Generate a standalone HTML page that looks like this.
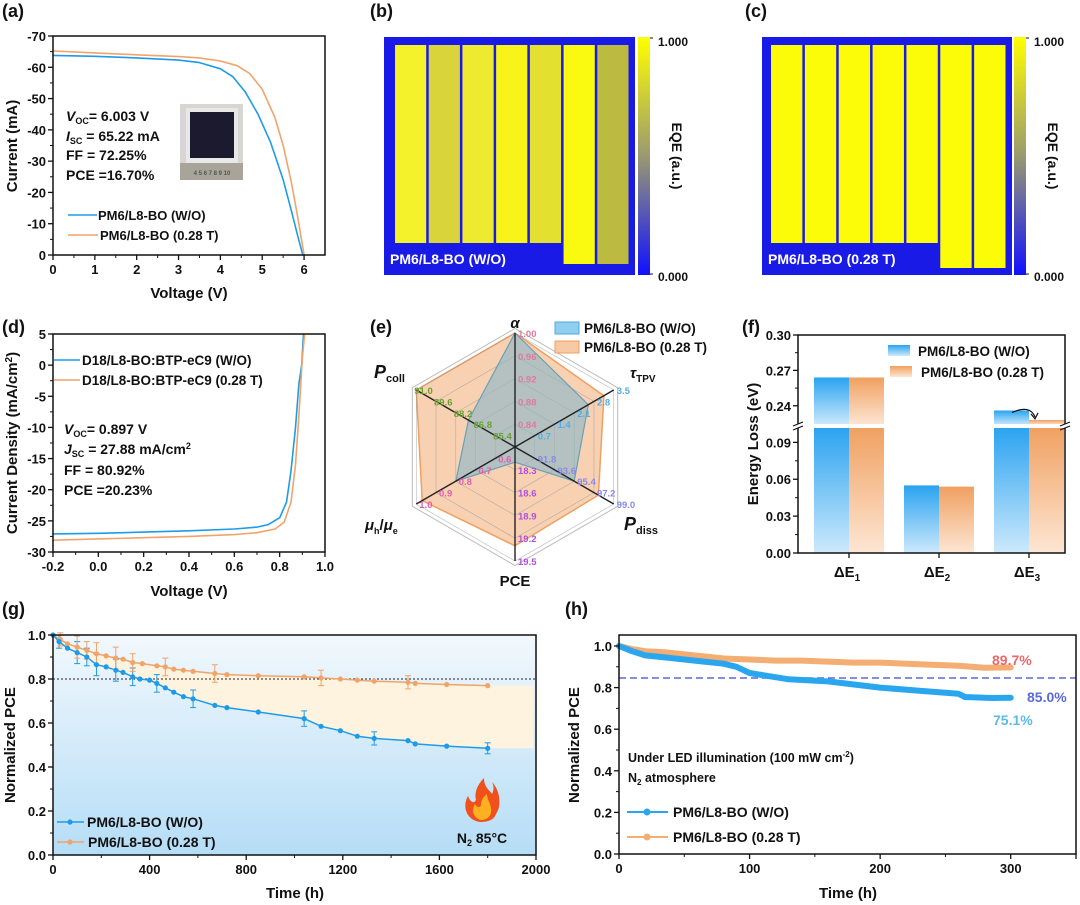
<!DOCTYPE html>
<html><head><meta charset="utf-8"><style>
html,body{margin:0;padding:0;background:#fff}
svg{display:block;font-family:"Liberation Sans",Arial,sans-serif;font-weight:bold}
</style></head><body>
<svg id="fig" width="1080" height="905" viewBox="0 0 1080 905" xmlns="http://www.w3.org/2000/svg">
<defs>
<linearGradient id="gB" x1="0" y1="0" x2="0" y2="1"><stop offset="0" stop-color="#2aa3f0"/><stop offset="1" stop-color="#cde9fc"/></linearGradient>
<linearGradient id="gO" x1="0" y1="0" x2="0" y2="1"><stop offset="0" stop-color="#f0a060"/><stop offset="1" stop-color="#fde6d4"/></linearGradient>
<linearGradient id="gBg" x1="0" y1="0" x2="0" y2="1"><stop offset="0" stop-color="#f2f8fd"/><stop offset="1" stop-color="#b5ddf6"/></linearGradient>
<linearGradient id="gCb" x1="0" y1="0" x2="0" y2="1"><stop offset="0" stop-color="#ffff00"/><stop offset="0.5" stop-color="#9a9a70"/><stop offset="1" stop-color="#1010ff"/></linearGradient>
</defs>
<g id="root"></g>
</svg>
<script>
// ---------- data ----------
const aV_wo=[0,1,2,3,3.5,4,4.3,4.6,4.9,5.2,5.5,5.7,5.85,5.97];
const aI_wo=[-63.8,-63.5,-63.0,-62.3,-61.5,-59.5,-57,-52,-45,-36,-24,-14,-6,0];
const aV_t=[0,1,2,3,3.5,4,4.4,4.7,5,5.3,5.5,5.7,5.85,5.95,6.0];
const aI_t=[-65.2,-64.6,-64,-63.4,-63,-62,-60.5,-58,-53,-44,-35,-23,-12,-4,0];
const dV_wo=[-0.2,0,0.2,0.4,0.6,0.7,0.75,0.8,0.83,0.85,0.87,0.885,0.897,0.905];
const dJ_wo=[-27.1,-27.0,-26.8,-26.6,-26.3,-26.0,-25.6,-24.5,-22,-17,-10,-3,0,5];
const dV_t=[-0.2,0,0.2,0.4,0.6,0.7,0.78,0.82,0.85,0.87,0.885,0.895,0.9,0.91];
const dJ_t=[-28.1,-27.9,-27.7,-27.5,-27.2,-26.9,-26.3,-25.2,-22,-16,-8,-2,1,5];
const radarAxes=["α","τTPV","Pdiss","PCE","μh/μe","Pcoll"];
const radarMin=[0.80,0,90,18.0,0.5,84];
const radarMax=[1.00,3.5,99,19.5,1.0,91];
const radarWO=[1.00,2.6,95.4,18.2,0.8,87.3];
const radarT=[1.00,3.15,97.6,19.3,0.97,91.0];
const radarTicks=[["0.84","0.88","0.92","0.96","1.00"],["0.7","1.4","2.1","2.8","3.5"],["91.8","93.6","95.4","97.2","99.0"],["18.3","18.6","18.9","19.2","19.5"],["0.6","0.7","0.8","0.9","1.0"],["85.4","86.8","88.2","89.6","91.0"]];
const fCats=["ΔE1","ΔE2","ΔE3"];
const fWO=[0.264,0.055,0.236];
const fT=[0.264,0.054,0.228];
const gT=[0,25,60,100,140,180,220,260,290,330,360,400,430,465,500,540,580,670,720,850,1040,1110,1190,1260,1330,1470,1500,1630,1800];
const gWO=[1.0,0.97,0.94,0.92,0.90,0.865,0.855,0.84,0.83,0.81,0.80,0.795,0.78,0.76,0.74,0.72,0.71,0.68,0.67,0.65,0.62,0.585,0.565,0.54,0.53,0.52,0.505,0.495,0.485];
const gTT=[0,30,60,100,140,180,220,260,290,330,370,430,465,500,540,580,670,720,850,1040,1110,1190,1260,1330,1470,1500,1630,1800];
const gTV=[1.0,0.98,0.96,0.945,0.93,0.915,0.905,0.895,0.89,0.875,0.87,0.86,0.855,0.845,0.84,0.835,0.825,0.82,0.815,0.81,0.805,0.80,0.795,0.79,0.785,0.78,0.775,0.77];
const gErrIdx=[1,3,4,5,7,9,12,16,20,24,28];
const gErr=[0.03,0.05,0.04,0.05,0.05,0.04,0.04,0.04,0.035,0.03,0.025];
const hT=[0,10,20,35,50,65,80,90,100,115,130,160,200,230,260,265,285,300];
const hWO=[1.0,0.975,0.955,0.945,0.935,0.925,0.915,0.90,0.87,0.855,0.84,0.83,0.80,0.785,0.77,0.755,0.75,0.751];
const hTT=[0,10,20,35,50,65,80,100,120,140,160,180,200,220,240,260,280,300];
const hTV=[1.0,0.985,0.975,0.97,0.96,0.95,0.94,0.935,0.93,0.93,0.925,0.92,0.92,0.915,0.91,0.905,0.895,0.897];

// ---------- helpers ----------
const NS="http://www.w3.org/2000/svg";
const root=document.getElementById('root');
function mk(tag,attrs,parent,txt){const e=document.createElementNS(NS,tag);for(const k in attrs)e.setAttribute(k,attrs[k]);if(txt!==undefined)e.textContent=txt;(parent||root).appendChild(e);return e;}
function lin(d0,d1,r0,r1){return v=>r0+(v-d0)/(d1-d0)*(r1-r0);}
function grp(name){const g=mk('g',{});return g;}
function txt(g,x,y,s,size,anchor,fill,name){const t=mk('text',{x:x,y:y,'font-size':size,'text-anchor':anchor||'start',fill:fill||'#111'},g,s);return t;}
function line(g,x1,y1,x2,y2,stroke,w,extra){const l=mk('line',Object.assign({x1:x1,y1:y1,x2:x2,y2:y2,stroke:stroke,'stroke-width':w},extra||{}),g);return l;}
function poly(g,xs,ys,sx,sy,stroke,w,name){const p=xs.map((v,i)=>sx(v).toFixed(1)+','+sy(ys[i]).toFixed(1)).join(' ');const e=mk('polyline',{points:p,fill:'none',stroke:stroke,'stroke-width':w,'stroke-linejoin':'round','stroke-linecap':'round'},g);return e;}
function frame(g,x0,y0,x1,y1){const r=mk('rect',{x:x0,y:y0,width:x1-x0,height:y1-y0,fill:'none',stroke:'#111','stroke-width':1.5},g);}
function yTicks(g,vals,sy,x0,fmt,minor){vals.forEach(v=>{const y=sy(v);line(g,x0-5,y,x0,y,'#111',1.3);txt(g,x0-7,y+5,fmt(v),13,'end','#111','y-tick-label');});
 if(minor)for(let i=0;i<vals.length-1;i++){const y=(sy(vals[i])+sy(vals[i+1]))/2;line(g,x0-3,y,x0,y,'#111',1);}}
function xTicks(g,vals,sx,y0,fmt,minor){vals.forEach(v=>{const x=sx(v);line(g,x,y0,x,y0+5,'#111',1.3);txt(g,x,y0+19,fmt(v),13,'middle','#111','x-tick-label');});
 if(minor)for(let i=0;i<vals.length-1;i++){const x=(sx(vals[i])+sx(vals[i+1]))/2;line(g,x,y0,x,y0+3,'#111',1);}}
function rotLabel(g,x,y,s,size,name){const t=mk('text',{x:0,y:0,'font-size':size,'text-anchor':'middle',transform:`translate(${x},${y}) rotate(-90)`,fill:'#111'},g,s);return t;}
function panelLabel(x,y,s){const g=grp('panel-label-'+s.replace(/[()]/g,''));txt(g,x,y,s,18,'start','#111','panel-label');}

const BLUE='#1e9be8',ORANGE='#f0a46a';

// ---------- (a) ----------
panelLabel(2,17,'(a)');
(function(){const g=grp('panel-a-iv-chart');
 const sx=lin(0,6.5,53,325), sy=lin(-70,0,36,255);
 // inset photo
 const ph=grp('inset-photo');root.appendChild(ph);
 mk('rect',{x:180,y:104,width:63,height:76,fill:'#d8d6d2'},ph);
 mk('rect',{x:186,y:108,width:52,height:55,fill:'#e8e8e8'},ph);
 mk('rect',{x:190,y:112,width:44,height:46,fill:'#1c1a2e'},ph);
 mk('rect',{x:180,y:163,width:63,height:17,fill:'#a9a49a'},ph);
 txt(ph,212,175,'4 5 6 7 8 9 10',6,'middle','#555','ruler-text');
 poly(g,aV_wo,aI_wo,sx,sy,BLUE,1.6,'iv-curve-wo');
 poly(g,aV_t,aI_t,sx,sy,ORANGE,1.6,'iv-curve-028t');
 frame(g,53,36,325,255);
 yTicks(g,[-70,-60,-50,-40,-30,-20,-10,0],sy,53,v=>v,true);
 xTicks(g,[0,1,2,3,4,5,6],sx,255,v=>v,true);
 txt(g,189,298,'Voltage (V)',15,'middle','#111','x-axis-title');
 rotLabel(g,17,146,'Current (mA)',15,'y-axis-title');
 const a=grp('annotation-a');
 const t1=txt(a,66,121,'',14);t1.innerHTML='<tspan font-style="italic">V</tspan><tspan font-size="9" dy="3">OC</tspan><tspan dy="-3">= 6.003 V</tspan>';
 const t2=txt(a,66,141,'',14);t2.innerHTML='<tspan font-style="italic">I</tspan><tspan font-size="9" dy="3">SC</tspan><tspan dy="-3"> = 65.22 mA</tspan>';
 txt(a,66,160,'FF = 72.25%',14);txt(a,66,180,'PCE =16.70%',14);
 const lg=grp('legend-a');
 line(lg,68,215,97,215,BLUE,1.6);txt(lg,98,220,'PM6/L8-BO (W/O)',13,'start','#111','legend-entry');
 line(lg,68,235,98,235,ORANGE,1.6);txt(lg,100,240,'PM6/L8-BO (0.28 T)',13,'start','#111','legend-entry');
})();

// ---------- (b),(c) EQE maps ----------
function eqe(name,x0,x1,stripX0,stripX1,longIdx,longBot,label,labW,colors,cbX,lblX){
 const g=grp(name);
 mk('rect',{x:x0,y:37,width:x1-x0,height:238,fill:'#1a1ae6'},g);
 const n=7,w=(stripX1-stripX0)/n;
 for(let i=0;i<n;i++){const r=mk('rect',{x:stripX0+i*w+1,y:45,width:w-2.5,height:(i>=longIdx?longBot:243)-45,fill:colors[i]},g);}
 mk('rect',{x:x0,y:243,width:labW,height:32,fill:'#1a1ae6'},g);
 txt(g,x0+6,264,label,14,'start','#fff','map-label');
 const cb=mk('rect',{x:cbX,y:37,width:12,height:238,fill:'url(#gCb)'},g);
 line(g,cbX+12,38,cbX+15,38,'#111',1);line(g,cbX+12,274,cbX+15,274,'#111',1);
 txt(g,cbX+20,46,'1.000',12,'start','#111','colorbar-max');
 txt(g,cbX+20,281,'0.000',12,'start','#111','colorbar-min');
 const t=mk('text',{x:0,y:0,'font-size':14,'text-anchor':'middle',transform:`translate(${lblX},156) rotate(90)`,fill:'#111'},g,'EQE (a.u.)');
}
panelLabel(370,17,'(b)');
eqe('panel-b-eqe-map',384,635,394,630,5,264,'PM6/L8-BO (W/O)',175,['#f4f22a','#d8d43a','#eeea30','#f8f41a','#e4e030','#fafa10','#bcba40'],638,672);
panelLabel(745,17,'(c)');
eqe('panel-c-eqe-map',762,1012,770,1007,5,268,'PM6/L8-BO (0.28 T)',176,['#fcfc08','#fcfc08','#fcfc08','#fcfc08','#fcfc08','#fcfc08','#fcfc08'],1014,1048);

// ---------- (d) ----------
panelLabel(2,333,'(d)');
(function(){const g=grp('panel-d-jv-chart');
 const sx=lin(-0.2,1.0,53,325), sy=lin(-30,5,552,334);
 poly(g,dV_wo,dJ_wo,sx,sy,BLUE,1.6,'jv-curve-wo');
 poly(g,dV_t,dJ_t,sx,sy,ORANGE,1.6,'jv-curve-028t');
 frame(g,53,334,325,552);
 yTicks(g,[5,0,-5,-10,-15,-20,-25,-30],sy,53,v=>v,true);
 xTicks(g,[-0.2,0,0.2,0.4,0.6,0.8,1.0],sx,552,v=>v.toFixed(1),true);
 txt(g,189,596,'Voltage (V)',15,'middle','#111','x-axis-title');
 const yl=rotLabel(g,17,443,'',15,'y-axis-title');yl.innerHTML='Current Density (mA/cm<tspan font-size="10" dy="-5">2</tspan><tspan dy="5">)</tspan>';
 const lg=grp('legend-d');
 line(lg,54,360,80,360,BLUE,1.6);txt(lg,82,365,'D18/L8-BO:BTP-eC9 (W/O)',13.5,'start','#111','legend-entry');
 line(lg,54,380,80,380,ORANGE,1.6);txt(lg,82,385,'D18/L8-BO:BTP-eC9 (0.28 T)',13.5,'start','#111','legend-entry');
 const a=grp('annotation-d');
 const t1=txt(a,64,434,'',14);t1.innerHTML='<tspan font-style="italic">V</tspan><tspan font-size="9" dy="3">OC</tspan><tspan dy="-3">= 0.897 V</tspan>';
 const t2=txt(a,64,454,'',14);t2.innerHTML='<tspan font-style="italic">J</tspan><tspan font-size="9" dy="3">SC</tspan><tspan dy="-3"> = 27.88 mA/cm</tspan><tspan font-size="9" dy="-5">2</tspan>';
 txt(a,64,475,'FF = 80.92%',14);txt(a,64,495,'PCE =20.23%',14);
})();

// ---------- (e) radar ----------
panelLabel(370,333,'(e)');
(function(){const g=grp('panel-e-radar-chart');
 const cx=515,cy=447,R=114;
 const ang=i=>-Math.PI/2+i*Math.PI/3;
 const pt=(i,f)=>[cx+R*f*Math.cos(ang(i)),cy+R*f*Math.sin(ang(i))];
 const frac=(arr,i)=>(arr[i]-radarMin[i])/(radarMax[i]-radarMin[i]);
 const polyStr=arr=>arr.map((v,i)=>pt(i,frac(arr,i)).map(n=>n.toFixed(1)).join(',')).join(' ');
 // outer frame
 mk('polygon',{points:[0,1,2,3,4,5].map(i=>pt(i,1.04).join(',')).join(' '),fill:'none',stroke:'#bbb','stroke-width':1},g);
 const pT=mk('polygon',{points:polyStr(radarT),fill:'#f7c9a4','fill-opacity':0.85,stroke:'#f0a060','stroke-width':1.5},g);
 
 for(let r=1;r<=5;r++)mk('polygon',{points:[0,1,2,3,4,5].map(i=>pt(i,r/5).join(',')).join(' '),fill:'none',stroke:'#999','stroke-width':0.6,'stroke-opacity':0.7},g);
 const pW=mk('polygon',{points:polyStr(radarWO),fill:'#8fb8c8','fill-opacity':0.65,stroke:'#6aa0b8','stroke-width':1.2},g);
 
 for(let i=0;i<6;i++){const p=pt(i,1);line(g,cx,cy,p[0],p[1],'#222',1.4);}
 const tc=['#e07a9a','#4fb0e6','#8a8ae6','#b050e0','#e060b0','#6aa030'];
 radarTicks.forEach((ticks,i)=>ticks.forEach((s,k)=>{const p=pt(i,(k+1)/5);txt(g,p[0]+(i==5?-2:3),p[1]+4,s,9.5,i==5?'start':'start',tc[i],'radar-tick-label');}));
 const al=txt(g,515,328,'α',15,'middle','#111','axis-label-alpha');al.setAttribute('font-style','italic');
 const l1=txt(g,630,378,'',15);l1.innerHTML='<tspan font-style="italic">τ</tspan><tspan font-size="10" dy="4">TPV</tspan>';
 const l2=txt(g,624,530,'',18);l2.innerHTML='<tspan font-style="italic">P</tspan><tspan font-size="11" dy="4">diss</tspan>';
 txt(g,515,586,'PCE',15,'middle','#111','axis-label-pce');
 const l4=txt(g,365,530,'',15);l4.innerHTML='<tspan font-style="italic">μ</tspan><tspan font-size="9" dy="4">h</tspan><tspan dy="-4">/</tspan><tspan font-style="italic">μ</tspan><tspan font-size="9" dy="4">e</tspan>';
 const l5=txt(g,374,378,'',18);l5.innerHTML='<tspan font-style="italic">P</tspan><tspan font-size="11" dy="4">coll</tspan>';
 const lg=grp('legend-e');
 mk('rect',{x:555,y:322,width:24,height:12,fill:'#8fcff0',stroke:'#4fa8d8','stroke-width':1},lg);
 txt(lg,584,333,'PM6/L8-BO (W/O)',13.5,'start','#111','legend-entry');
 mk('rect',{x:555,y:341,width:24,height:12,fill:'#f7c9a4',stroke:'#f0a060','stroke-width':1},lg);
 txt(lg,584,352,'PM6/L8-BO (0.28 T)',13.5,'start','#111','legend-entry');
})();

// ---------- (f) bars ----------
panelLabel(742,333,'(f)');
(function(){const g=grp('panel-f-energy-loss-chart');
 const X0=798,X1=1065,Y0=335,Y1=553,BRK=427;
 const syU=lin(0.222,0.30,BRK,Y0), syL=lin(0,0.1025,Y1,BRK);
 const cx=lin(0,2,849,1029), bw=35;
 function bar(i,v,off,fill,name){const x=cx(i)+off;
  const topL=v>0.1025?BRK:syL(v);
  const r=mk('rect',{x:x,y:topL,width:bw,height:Y1-topL,fill:fill},g);
  if(v>0.222){const t=syU(v);const r2=mk('rect',{x:x,y:t,width:bw,height:BRK-2-t,fill:fill},g);}
 }
 fCats.forEach((c,i)=>{bar(i,fWO[i],-bw,'url(#gB)','bar-wo-'+i);bar(i,fT[i],0,'url(#gO)','bar-028t-'+i);});
 mk('rect',{x:X0+1,y:BRK-3,width:X1-X0-2,height:4,fill:'#fff'},g);
 frame(g,X0,Y0,X1,Y1);
 mk('rect',{x:X0-6,y:BRK-3,width:12,height:4,fill:'#fff'},g);mk('rect',{x:X1-6,y:BRK-3,width:12,height:4,fill:'#fff'},g);
 [X0,X1].forEach(x=>{line(g,x-5,BRK-1,x+5,BRK-5,'#111',1.2);line(g,x-5,BRK+3,x+5,BRK-1,'#111',1.2);});
 [0.30,0.27,0.24].forEach(v=>{const y=syU(v);line(g,X0-5,y,X0,y,'#111',1.3);txt(g,X0-7,y+5,v.toFixed(2),13,'end','#111','y-tick-label');});
 [0.09,0.06,0.03,0.00].forEach(v=>{const y=syL(v);line(g,X0-5,y,X0,y,'#111',1.3);txt(g,X0-7,y+5,v.toFixed(2),13,'end','#111','y-tick-label');});
 [0.285,0.255,0.225].forEach(v=>{const y=syU(v);if(y<BRK-4)line(g,X0-3,y,X0,y,'#111',1);});
 [0.075,0.045,0.015].forEach(v=>{const y=syL(v);line(g,X0-3,y,X0,y,'#111',1);});
 fCats.forEach((c,i)=>{const x=cx(i);line(g,x,Y1,x,Y1+5,'#111',1.3);const t=txt(g,x-2,Y1+24,'',15,'middle','#111','x-tick-label');t.innerHTML='ΔE<tspan font-size="10" dy="4">'+(i+1)+'</tspan>';});
 rotLabel(g,758,444,'Energy Loss (eV)',15,'y-axis-title');
 mk('path',{d:`M1012 ${syU(fWO[2])+2} Q1030 ${syU(fWO[2])-6} 1035 ${syU(fT[2])-3}`,fill:'none',stroke:'#111','stroke-width':1.2},g);
 mk('path',{d:`M1031 ${syU(fT[2])-6} L1035 ${syU(fT[2])-1} L1038 ${syU(fT[2])-7}`,fill:'none',stroke:'#111','stroke-width':1.2},g);
 const lg=grp('legend-f');
 mk('rect',{x:888,y:345,width:22,height:11,fill:'url(#gB)'},lg);txt(lg,918,356,'PM6/L8-BO (W/O)',13.5,'start','#111','legend-entry');
 mk('rect',{x:890,y:366,width:22,height:11,fill:'url(#gO)'},lg);txt(lg,921,377,'PM6/L8-BO (0.28 T)',13.5,'start','#111','legend-entry');
})();

// ---------- (g) ----------
panelLabel(2,615,'(g)');
(function(){const g=grp('panel-g-thermal-stability-chart');
 const sx=lin(0,2000,53,536), sy=lin(0,1,855,635);
 mk('rect',{x:53,y:635,width:483,height:220,fill:'url(#gBg)'},g);
 const top=gTT.map((t,i)=>sx(t)+','+sy(gTV[i])).concat([sx(1990)+','+sy(gTV[gTV.length-1])]);
 const bot=gT.map((t,i)=>sx(t)+','+sy(gWO[i])).concat([sx(1990)+','+sy(gWO[gWO.length-1])]).reverse();
 const band=mk('polygon',{points:top.concat(bot).join(' '),fill:'#fdf3de'},g);
 line(g,53,sy(0.8),536,sy(0.8),'#222',1,{'stroke-dasharray':'2,2'});
 poly(g,gTT,gTV,sx,sy,ORANGE,1.5,'line-028t');
 poly(g,gT,gWO,sx,sy,BLUE,1.5,'line-wo');
 gErrIdx.forEach((k,j)=>{[[gT,gWO,BLUE],[gTT,gTV,ORANGE]].forEach(([T,V,c])=>{if(k>=T.length)return;const x=sx(T[k]),y1=sy(V[k]-gErr[j]),y2=sy(V[k]+gErr[j]);line(g,x,y1,x,y2,c,1);line(g,x-3,y1,x+3,y1,c,1);line(g,x-3,y2,x+3,y2,c,1);});});
 gTT.forEach((t,i)=>{const c=mk('circle',{cx:sx(t),cy:sy(gTV[i]),r:2.6,fill:ORANGE},g);});
 gT.forEach((t,i)=>{const c=mk('circle',{cx:sx(t),cy:sy(gWO[i]),r:2.6,fill:BLUE},g);});
 frame(g,53,635,536,855);
 yTicks(g,[0,0.2,0.4,0.6,0.8,1.0],sy,53,v=>v.toFixed(1),true);
 xTicks(g,[0,400,800,1200,1600,2000],sx,855,v=>v,true);
 txt(g,295,898,'Time (h)',15,'middle','#111','x-axis-title');
 rotLabel(g,15,745,'Normalized PCE',15,'y-axis-title');
 const lg=grp('legend-g');
 line(lg,57,822,84,822,BLUE,1.5);mk('circle',{cx:70,cy:822,r:2.6,fill:BLUE},lg);txt(lg,87,827,'PM6/L8-BO (W/O)',14,'start','#111','legend-entry');
 line(lg,57,842,84,842,ORANGE,1.5);mk('circle',{cx:70,cy:842,r:2.6,fill:ORANGE},lg);txt(lg,88,847,'PM6/L8-BO (0.28 T)',14,'start','#111','legend-entry');
 const fl=grp('flame-icon');
 mk('path',{d:'M480 822 C466 820 462 806 468 796 C470 802 474 804 476 800 C474 792 478 784 484 778 C484 788 490 790 492 794 C494 790 494 786 492 782 C500 790 502 806 496 814 C494 820 488 822 480 822 Z',fill:'#f0501c'},fl);
 mk('path',{d:'M481 820 C473 818 471 810 475 804 C477 808 480 808 481 805 C481 800 484 796 487 794 C487 800 491 804 491 809 C492 815 488 820 481 820 Z',fill:'#ffb020'},fl);
 const nt=txt(g,482,843,'',14,'middle','#111','condition-label');nt.innerHTML='N<tspan font-size="9" dy="3">2</tspan><tspan dy="-3"> 85°C</tspan>';
})();

// ---------- (h) ----------
panelLabel(565,615,'(h)');
(function(){const g=grp('panel-h-light-stability-chart');
 const sx=lin(0,350,619,1076), sy=lin(0,1,854,646);
 line(g,619,sy(0.846),1076,sy(0.846),'#5a6ad8',1.5,{'stroke-dasharray':'7,4'});
 poly(g,hTT,hTV,sx,sy,'#f4ad72',6,'line-028t');
 poly(g,hT,hWO,sx,sy,'#2aa6ef',6,'line-wo');
 frame(g,619,635,1076,854);
 yTicks(g,[0,0.2,0.4,0.6,0.8,1.0],sy,619,v=>v.toFixed(1),true);
 xTicks(g,[0,100,200,300],sx,854,v=>v,true);
 line(g,sx(350),854,sx(350),859,'#111',1.3);
 txt(g,848,898,'Time (h)',15,'middle','#111','x-axis-title');
 rotLabel(g,579,745,'Normalized PCE',15,'y-axis-title');
 txt(g,992,665,'89.7%',14,'start','#e86a6a','value-label-028t');
 txt(g,1027,702,'85.0%',14,'start','#5a6ad8','threshold-label');
 txt(g,993,725,'75.1%',14,'start','#5bbbe8','value-label-wo');
 const a=txt(g,628,762,'',12.5,'start','#111','condition-label');a.innerHTML='Under LED illumination (100 mW cm<tspan font-size="8" dy="-5">-2</tspan><tspan dy="5">)</tspan>';
 const b=txt(g,628,782,'',12.5,'start','#111','condition-label');b.innerHTML='N<tspan font-size="8" dy="3">2</tspan><tspan dy="-3"> atmosphere</tspan>';
 const lg=grp('legend-h');
 line(lg,627,812,668,812,'#2aa6ef',2);mk('circle',{cx:647,cy:812,r:3.5,fill:'#2aa6ef'},lg);txt(lg,673,817,'PM6/L8-BO (W/O)',14,'start','#111','legend-entry');
 line(lg,627,837,668,837,'#f4ad72',2);mk('circle',{cx:647,cy:837,r:3.5,fill:'#f4ad72'},lg);txt(lg,673,842,'PM6/L8-BO (0.28 T)',14,'start','#111','legend-entry');
})();
</script>
</body></html>
